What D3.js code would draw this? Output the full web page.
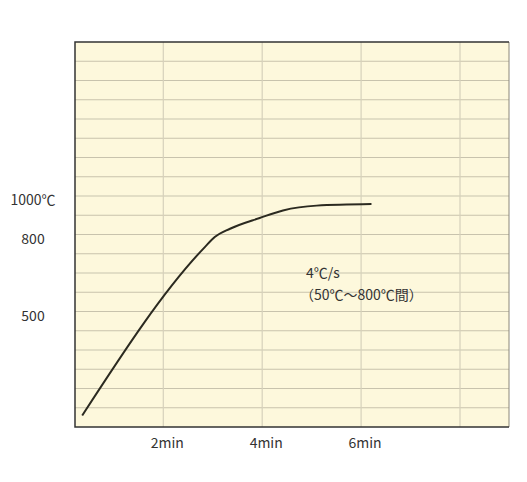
<!DOCTYPE html>
<html><head><meta charset="utf-8">
<script src="https://cdn.jsdelivr.net/npm/d3@7"></script>
<style>body{margin:0;background:#fff}text{font-family:"Noto Sans CJK JP","Noto Sans",sans-serif;fill:#333}</style>
</head><body>
<script>
// data (time in min, temperature in ℃)
var times = [0.36, 2.84, 3.04, 3.35, 3.95, 4.42, 5.1, 6.21];
var temps = [50, 751, 790, 830, 886, 925, 950, 958];
var xTicks = [2, 4, 6, 8];
var xLabels = ["2min", "4min", "6min", ""];
var yTicks = [1000, 800, 500];
var yLabels = ["1000℃", "800", "500"];
var note = ["4℃/s", "（50℃～800℃間）"];

var svg = d3.select("body").append("svg").attr("width", 527).attr("height", 482);
var pLeft = 75, pRight = 509, pTop = 42, pBottom = 427;
var row = (pBottom - pTop) / 20;

// schematic temperature axis: not uniform, grid rows are the real unit
var y = d3.scaleLinear()
  .domain([0, 500, 800, 1000, 1800])
  .range([0, 6, 10, 12, 20].map(function(r) { return pBottom - r * row; }));
var x = d3.scaleLinear().domain([0, 8]).range([64.4, 460]);

svg.append("rect").attr("x", pLeft).attr("y", pTop).attr("width", pRight - pLeft).attr("height", pBottom - pTop)
  .attr("fill", "#fdf8dc");

// horizontal grid
svg.selectAll(".hg").data(d3.range(1, 20)).enter().append("line")
  .attr("x1", pLeft).attr("x2", pRight)
  .attr("y1", function(r) { return pBottom - r * row; }).attr("y2", function(r) { return pBottom - r * row; })
  .attr("stroke", "#c8c3ad").attr("stroke-width", 1.2);

// vertical grid
svg.selectAll(".vg").data(xTicks).enter().append("line")
  .attr("x1", x).attr("x2", x).attr("y1", pTop).attr("y2", pBottom)
  .attr("stroke", "#d6d1bb").attr("stroke-width", 1.2);

// frame
svg.append("path").attr("d", "M" + pRight + "," + pTop + "V" + pBottom)
  .attr("fill", "none").attr("stroke", "#8a877a").attr("stroke-width", 1);
svg.append("path").attr("d", "M" + pRight + "," + pTop + "H" + pLeft + "V" + pBottom + "H" + pRight)
  .attr("fill", "none").attr("stroke", "#333").attr("stroke-width", 1.5);

// curve
var line = d3.line().x(function(d, i) { return x(times[i]); }).y(function(d) { return y(d); })
  .curve(d3.curveMonotoneX);
svg.append("path").datum(temps).attr("d", line)
  .attr("fill", "none").attr("stroke", "#2b2a20").attr("stroke-width", 2);

// axis labels
svg.selectAll(".xl").data(xTicks).enter().append("text")
  .attr("x", function(d) { return x(d) + 4; }).attr("y", 448)
  .attr("text-anchor", "middle").attr("font-size", 14)
  .text(function(d, i) { return xLabels[i]; });

svg.selectAll(".yl").data(yTicks).enter().append("text")
  .attr("x", 33).attr("y", function(d) { return y(d) + 9; })
  .attr("text-anchor", "middle").attr("font-size", 14)
  .text(function(d, i) { return yLabels[i]; });

svg.selectAll(".note").data(note).enter().append("text")
  .attr("x", function(d, i) { return i ? 300 : 306; }).attr("y", function(d, i) { return 278 + i * 22; })
  .attr("font-size", 14).text(function(d) { return d; });
</script>
</body></html>
